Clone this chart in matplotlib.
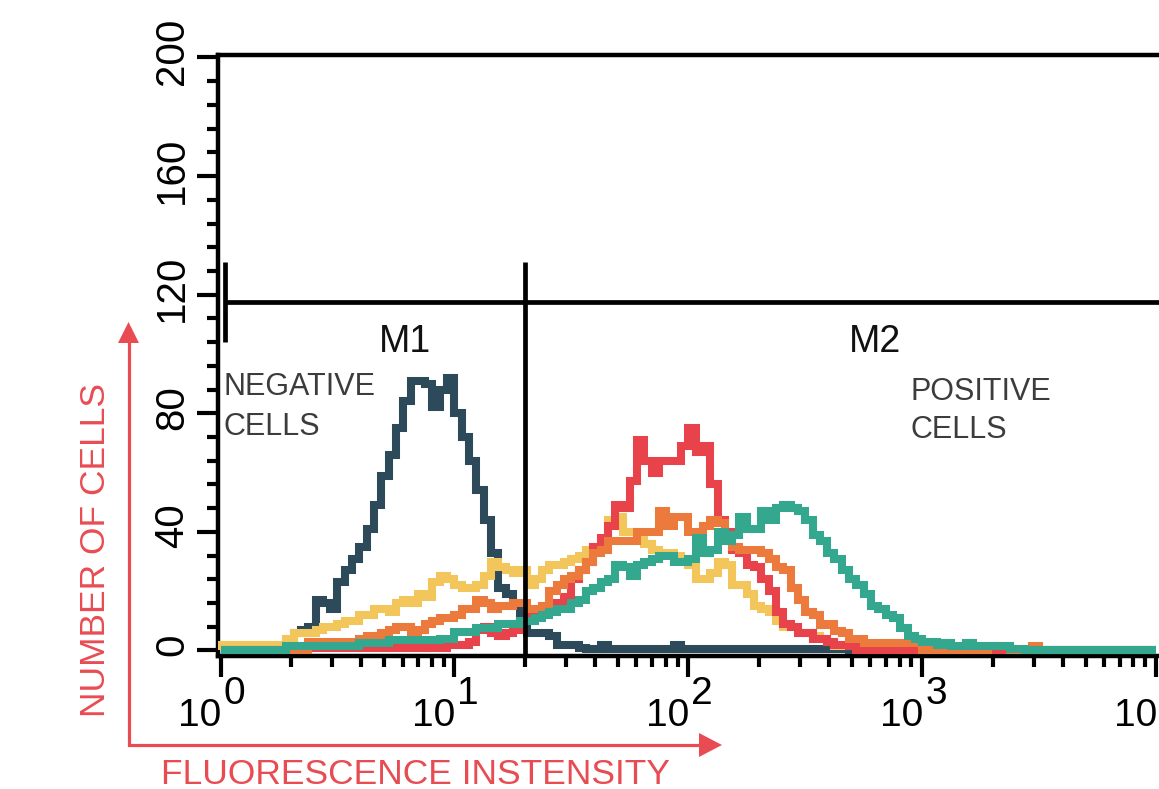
import numpy as np
import matplotlib
matplotlib.use("Agg")
import matplotlib.pyplot as plt
import matplotlib.transforms as mtransforms
from matplotlib import font_manager as fm
from matplotlib.lines import Line2D
from matplotlib.patches import Polygon
from matplotlib.ticker import FixedLocator, NullFormatter

# ---------------- data (cell counts per log channel, 32 channels/decade) ----------------
BINS_PER_DECADE = 32
N_BINS = 128

NEGATIVE = ([0] * 9 +
            [3, 6, 7, 8, 17, 16, 14, 23, 27, 31, 35, 41] +
            [49, 59, 66, 75, 84, 91, 91, 90, 82, 88, 92, 80] +
            [72, 64, 54, 44, 33, 21, 19, 15, 8, 6, 6, 6] +
            [5, 2, 2, 2, 1, 0.5, 0.5, 2, 0.5, 0.5, 0.5, 0.5] +
            [0.5, 0.5, 0.5, 0.5, 0.5, 2, 0.5, 0.5, 0.5, 0.5, 0.5, 0.5] +
            [0.5] * 17 + [0] * 42)

YELLOW = ([2] * 9 +
          [4, 6, 6, 6, 7, 8, 8, 9, 10, 10, 12, 12] +
          [14, 14, 13, 16, 17, 16, 19, 18, 23, 25, 24, 22] +
          [21, 21, 22, 25, 30, 28, 27, 26, 27, 22, 24, 27] +
          [29, 29, 30, 31, 32, 34, 35, 37, 44, 45, 40, 40] +
          [38, 36, 34, 33, 33, 32, 31, 29, 24, 24, 26, 30] +
          [29, 22, 22, 19, 15, 14, 13, 10, 8, 8, 6, 6] +
          [5, 4, 3, 1.5, 1.5, 1.5, 1.5, 1, 1, 1, 1, 1] +
          [0] * 35)

RED = ([0] * 12 +
       [2, 1, 2, 1, 1, 1, 1, 1, 1, 1, 1, 1] +
       [1, 1, 1, 1, 3, 1, 1, 2, 2, 2, 3, 7] +
       [8, 6, 5, 6, 7, 10, 12, 12, 13, 14, 16, 18] +
       [24, 27, 30, 35, 38, 42, 49, 48, 57, 71, 64, 60] +
       [64, 64, 64, 69, 75, 67, 69, 56, 44, 40, 34, 33] +
       [29, 28, 24, 20, 13, 9, 8, 6, 6, 4, 4, 3] +
       [2, 2, 1.5, 0, 0, 0, 0, 0, 0, 0, 0, 0] +
       [0] * 32)

ORANGE = ([0] * 12 +
          [3, 3, 2, 3, 3, 3, 3, 4, 5, 5, 6, 7] +
          [8, 8, 6, 7, 9, 10, 11, 11, 12, 14, 14, 17] +
          [16, 14, 15, 15, 16, 16, 14, 14, 15, 20, 22, 24] +
          [25, 27, 30, 33, 34, 37, 37, 37, 37, 40, 40, 40] +
          [47, 42, 45, 45, 40, 40, 42, 44, 43, 39, 35, 34] +
          [34, 34, 33, 31, 28, 27, 21, 17, 13, 12, 8.5, 9] +
          [6.5, 6, 4, 4, 2.4, 2.4, 2.4, 2.4, 2.4, 2.4, 2.4, 2.4] +
          [0, 0, 0, 0, 0, 0, 0, 0, 0, 1.4, 1.4, 1.4] +
          [0, 0, 0, 1.4, 0, 0, 0, 0, 0, 0, 0, 0] +
          [0] * 8)

TEAL = ([0] * 9 +
        [1.5] * 10 + [2.4, 2.4] +
        [2.4, 2.4] + [3.4] * 7 + [4, 4, 6.4] +
        [6.4, 6.4, 7.5, 7.5, 7.5, 9, 9, 9, 10, 10, 11, 12] +
        [13, 14, 14, 16, 17, 20, 21, 23, 24, 29, 28, 25] +
        [29, 30, 31, 32, 32, 30, 30, 31, 38, 33, 34, 40] +
        [37, 39, 45, 41, 41, 47, 44, 48, 49, 48, 47, 44] +
        [39, 37, 33, 31, 27, 24, 22, 19, 15, 14, 12, 11] +
        [7.5, 5, 4, 3, 3, 2, 2.5, 1.4, 1.4, 2.5, 1.4, 1.4] +
        [1.4, 1.4, 1.4, 0.5, 0.5] + [0.3] * 18)

SERIES = [NEGATIVE, YELLOW, RED, ORANGE, TEAL]
COLORS = ["#2c4a59", "#f2c65a", "#e8424a", "#ec7a3d", "#34a88f"]

Y_TICKS = [0, 40, 80, 120, 160, 200]
X_EXPONENTS = [0, 1, 2, 3, 4]

GATE_Y = 117.5
GATE_LEFT = 1.05
GATE_SPLIT = 20
GATE_BAR = (104, 131)

RED_TXT = "#e84c52"

# ---------------- fonts ----------------
names = {f.name for f in fm.fontManager.ttflist}
MAIN_FONT = ["Liberation Sans", "DejaVu Sans"]
if "Liberation Sans Narrow" in names:
    NARROW = dict(family=["Liberation Sans Narrow", "DejaVu Sans"], fontsize=30.5)
else:
    NARROW = dict(family=["Liberation Sans", "DejaVu Sans"], fontsize=25.5)

plt.rcParams["font.family"] = MAIN_FONT

# ---------------- figure / axes geometry ----------------
W, H = 1159, 789
fig = plt.figure(figsize=(W / 100, H / 100), dpi=100)
fig.patch.set_facecolor("white")

X0PX, PXDEC = 220.5, 233.9
AX_L, AX_R, AX_T, AX_B = 217.5, 1200.0, 54.5, 655.5
ax = fig.add_axes([AX_L / W, (H - AX_B) / H, (AX_R - AX_L) / W, (AX_B - AX_T) / H])
ax.set_xscale("log")
ax.set_xlim(10 ** ((AX_L - X0PX) / PXDEC), 10 ** ((AX_R - X0PX) / PXDEC))
ax.set_ylim(-1.69, 201.0)

edges = 10 ** (np.arange(N_BINS + 1) / BINS_PER_DECADE)
for z, (vals, col) in enumerate(zip(SERIES, COLORS)):
    ax.stairs(np.asarray(vals, dtype=float), edges, color=col, lw=5.8,
              zorder=3 + z, baseline=0)

# spines
for s in ["left", "bottom", "top"]:
    ax.spines[s].set_linewidth(3.2)
    ax.spines[s].set_color("black")
ax.spines["right"].set_visible(False)

# ticks
ax.xaxis.set_major_locator(FixedLocator([10.0 ** e for e in X_EXPONENTS]))
ax.xaxis.set_minor_locator(FixedLocator([m * 10.0 ** e for e in X_EXPONENTS for m in range(2, 10)]))
ax.xaxis.set_major_formatter(NullFormatter())
ax.xaxis.set_minor_formatter(NullFormatter())
ax.yaxis.set_major_locator(FixedLocator(Y_TICKS))
ax.yaxis.set_minor_locator(FixedLocator([v for v in range(0, 201, 8) if v % 40 != 0]))
ax.set_yticklabels([str(v) for v in Y_TICKS])
ax.tick_params(which="major", direction="out", length=15, width=3.0, color="black")
ax.tick_params(which="minor", direction="out", length=8, width=3.0, color="black")
ax.tick_params(axis="y", pad=4, labelsize=29)
ax.tick_params(top=False, right=False)
up = mtransforms.ScaledTranslation(0, 6 / 100, fig.dpi_scale_trans)
for lab in ax.yaxis.get_majorticklabels():
    lab.set_rotation(90)
    lab.set_va("center")
    lab.set_ha("right")
    lab.set_transform(lab.get_transform() + up)

# x tick labels 10^n with full-size exponent
for e in X_EXPONENTS:
    ax.annotate("10", xy=(10.0 ** e, 0), xycoords=("data", "axes fraction"),
                xytext=(1, -70), textcoords="offset pixels", ha="right", va="baseline",
                fontsize=28, annotation_clip=False)
    ax.annotate(str(e), xy=(10.0 ** e, 0), xycoords=("data", "axes fraction"),
                xytext=(3, -48), textcoords="offset pixels", ha="left", va="baseline",
                fontsize=28, annotation_clip=False)

# gates
xmax = ax.get_xlim()[1]
ax.plot([GATE_LEFT, xmax], [GATE_Y, GATE_Y], color="black", lw=3.4, zorder=10,
        solid_capstyle="butt")
ax.plot([GATE_LEFT, GATE_LEFT], list(GATE_BAR), color="black", lw=3.4, zorder=10,
        solid_capstyle="butt")
ax.plot([GATE_SPLIT, GATE_SPLIT], [-1.69, GATE_BAR[1]], color="black", lw=3.4, zorder=10,
        solid_capstyle="butt")

ax.text(6.15, 100.7, "M1", ha="center", va="baseline", fontsize=27, color="#111111", zorder=11)
ax.text(628, 100.7, "M2", ha="center", va="baseline", fontsize=27, color="#111111", zorder=11)

GRAY = "#3c3c3c"
ax.text(1.025, 86.2, "NEGATIVE", ha="left", va="baseline", fontsize=22, color=GRAY, zorder=11)
ax.text(1.025, 72.7, "CELLS", ha="left", va="baseline", fontsize=22, color=GRAY, zorder=11)
ax.text(887, 84.5, "POSITIVE", ha="left", va="baseline", fontsize=22, color=GRAY, zorder=11)
ax.text(887, 71.7, "CELLS", ha="left", va="baseline", fontsize=22, color=GRAY, zorder=11)

# ---------------- red axis arrows and labels (figure pixel coordinates) ----------------
pix = mtransforms.Affine2D().scale(1 / W, -1 / H).translate(0, 1) + fig.transFigure
fig.add_artist(Line2D([128.5, 128.5, 700], [342, 745, 745], transform=pix,
                      color=RED_TXT, lw=2.3, solid_joinstyle="miter"))
fig.add_artist(Polygon([[118, 343], [139, 343], [128.5, 322]], closed=True,
                       transform=pix, color=RED_TXT, lw=0))
fig.add_artist(Polygon([[699, 733], [699, 757], [722, 745]], closed=True,
                       transform=pix, color=RED_TXT, lw=0))

fig.text(96 / W, 1 - 550 / H, "NUMBER OF CELLS", rotation=90, ha="center", va="center",
         color=RED_TXT, **NARROW)
fig.text(415.5 / W, 1 - 784 / H, "FLUORESCENCE INSTENSITY", ha="center", va="baseline",
         color=RED_TXT, **NARROW)

fig.savefig("out.png", dpi=100, facecolor="white")
